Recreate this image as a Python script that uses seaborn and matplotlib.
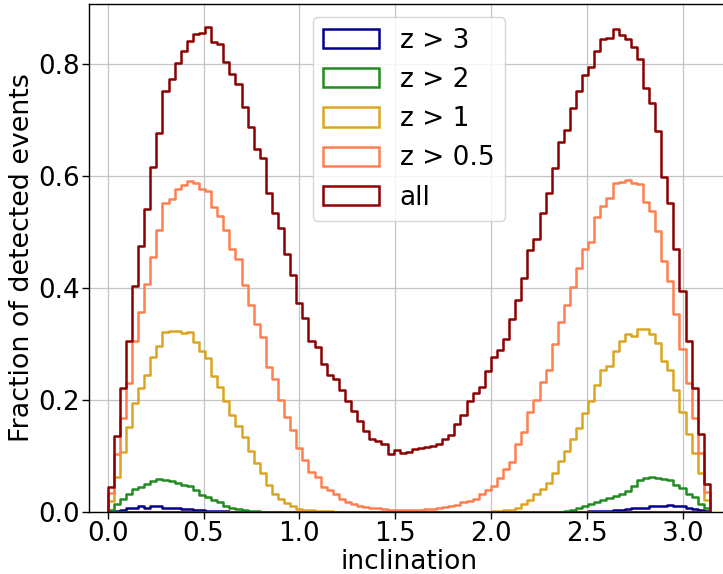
import numpy as np
import pandas as pd
import matplotlib
matplotlib.use("Agg")
import matplotlib.pyplot as plt
from matplotlib.patches import Rectangle
from matplotlib.transforms import ScaledTranslation
import seaborn as sns

# ---------------- data (fraction of detected events per inclination bin) ----------------
n_bins = 99                      # bins over [0, pi]
bin_range = (0.0, np.pi)

frac_all = [
    0.044, 0.136, 0.221, 0.306, 0.403, 0.475, 0.541, 0.616, 0.676, 0.752,
    0.773, 0.801, 0.824, 0.841, 0.853, 0.856, 0.866, 0.839, 0.835, 0.803,
    0.782, 0.765, 0.724, 0.687, 0.648, 0.633, 0.570, 0.534, 0.507, 0.461,
    0.424, 0.373, 0.347, 0.306, 0.294, 0.264, 0.245, 0.238, 0.218, 0.199,
    0.180, 0.162, 0.145, 0.130, 0.126, 0.121, 0.104, 0.110, 0.106, 0.108,
    0.112, 0.115, 0.116, 0.118, 0.122, 0.130, 0.138, 0.157, 0.174, 0.198,
    0.213, 0.224, 0.251, 0.277, 0.290, 0.309, 0.345, 0.378, 0.417, 0.467,
    0.488, 0.534, 0.569, 0.614, 0.661, 0.682, 0.721, 0.751, 0.781, 0.794,
    0.823, 0.845, 0.847, 0.863, 0.851, 0.844, 0.830, 0.809, 0.758, 0.730,
    0.681, 0.599, 0.551, 0.470, 0.394, 0.306, 0.221, 0.140, 0.050,
]

frac_z05 = [
    0.034, 0.103, 0.168, 0.231, 0.306, 0.358, 0.408, 0.456, 0.503, 0.552,
    0.559, 0.576, 0.584, 0.591, 0.587, 0.576, 0.573, 0.545, 0.528, 0.503,
    0.469, 0.452, 0.406, 0.370, 0.336, 0.313, 0.259, 0.237, 0.200, 0.170,
    0.147, 0.115, 0.093, 0.072, 0.063, 0.044, 0.039, 0.032, 0.023, 0.017,
    0.014, 0.011, 0.009, 0.008, 0.007, 0.005, 0.004, 0.003, 0.003, 0.003,
    0.004, 0.004, 0.005, 0.006, 0.007, 0.009, 0.011, 0.013, 0.017, 0.020,
    0.024, 0.032, 0.039, 0.047, 0.061, 0.076, 0.090, 0.122, 0.142, 0.178,
    0.200, 0.232, 0.254, 0.300, 0.339, 0.369, 0.402, 0.435, 0.469, 0.482,
    0.527, 0.546, 0.560, 0.587, 0.590, 0.592, 0.588, 0.586, 0.554, 0.538,
    0.502, 0.448, 0.413, 0.354, 0.291, 0.230, 0.168, 0.106, 0.035,
]

frac_z1 = [
    0.020, 0.063, 0.107, 0.151, 0.195, 0.222, 0.245, 0.276, 0.297, 0.322,
    0.324, 0.324, 0.319, 0.322, 0.303, 0.287, 0.275, 0.243, 0.223, 0.199,
    0.173, 0.153, 0.134, 0.109, 0.087, 0.069, 0.048, 0.033, 0.024, 0.016,
    0.010, 0.006, 0.004, 0.003, 0.002, 0.001, 0.001, 0.000, 0.000, 0.000,
    0.000, 0.000, 0.000, 0.000, 0.000, 0.000, 0.000, 0.000, 0.000, 0.000,
    0.000, 0.000, 0.000, 0.000, 0.000, 0.000, 0.000, 0.000, 0.000, 0.000,
    0.000, 0.000, 0.000, 0.001, 0.002, 0.003, 0.004, 0.007, 0.014, 0.021,
    0.032, 0.041, 0.051, 0.070, 0.091, 0.109, 0.130, 0.150, 0.176, 0.199,
    0.227, 0.253, 0.260, 0.287, 0.305, 0.318, 0.315, 0.327, 0.327, 0.317,
    0.301, 0.269, 0.253, 0.218, 0.178, 0.139, 0.106, 0.069, 0.021,
]

frac_z2 = [
    0.004, 0.014, 0.023, 0.033, 0.041, 0.045, 0.050, 0.056, 0.059, 0.057,
    0.055, 0.051, 0.049, 0.047, 0.039, 0.030, 0.027, 0.021, 0.017, 0.011,
    0.008, 0.005, 0.004, 0.002, 0.001, 0.000, 0.000, 0.000, 0.000, 0.000,
    0.000, 0.000, 0.000, 0.000, 0.000, 0.000, 0.000, 0.000, 0.000, 0.000,
    0.000, 0.000, 0.000, 0.000, 0.000, 0.000, 0.000, 0.000, 0.000, 0.000,
    0.000, 0.000, 0.000, 0.000, 0.000, 0.000, 0.000, 0.000, 0.000, 0.000,
    0.000, 0.000, 0.000, 0.000, 0.000, 0.000, 0.000, 0.000, 0.000, 0.000,
    0.000, 0.000, 0.000, 0.000, 0.000, 0.001, 0.004, 0.008, 0.011, 0.014,
    0.017, 0.021, 0.025, 0.029, 0.033, 0.037, 0.047, 0.057, 0.061, 0.063,
    0.061, 0.059, 0.057, 0.049, 0.043, 0.033, 0.027, 0.015, 0.007,
]

frac_z3 = [
    0.001, 0.002, 0.004, 0.007, 0.008, 0.011, 0.008, 0.010, 0.010, 0.008,
    0.008, 0.007, 0.006, 0.005, 0.004, 0.003, 0.002, 0.002, 0.001, 0.001,
    0.0005, 0.000, 0.000, 0.000, 0.000, 0.000, 0.000, 0.000, 0.000, 0.000,
    0.000, 0.000, 0.000, 0.000, 0.000, 0.000, 0.000, 0.000, 0.000, 0.000,
    0.000, 0.000, 0.000, 0.000, 0.000, 0.000, 0.000, 0.000, 0.000, 0.000,
    0.000, 0.000, 0.000, 0.000, 0.000, 0.000, 0.000, 0.000, 0.000, 0.000,
    0.000, 0.000, 0.000, 0.000, 0.000, 0.000, 0.000, 0.000, 0.000, 0.000,
    0.000, 0.000, 0.000, 0.000, 0.000, 0.000, 0.000, 0.000, 0.0005, 0.001,
    0.002, 0.002, 0.002, 0.003, 0.004, 0.005, 0.007, 0.008, 0.008, 0.010,
    0.011, 0.011, 0.012, 0.011, 0.011, 0.008, 0.006, 0.004, 0.002,
]

series_labels = ["z > 3", "z > 2", "z > 1", "z > 0.5", "all"]
series_values = [frac_z3, frac_z2, frac_z1, frac_z05, frac_all]
series_colors = ["darkblue", "forestgreen", "goldenrod", "coral", "darkred"]

x_ticks = [0.0, 0.5, 1.0, 1.5, 2.0, 2.5, 3.0]
y_ticks = [0.0, 0.2, 0.4, 0.6, 0.8]

# ---------------- style ----------------
sns.set_style("ticks")
plt.rcParams["font.family"] = ["DejaVu Sans"]
plt.rcParams["text.color"] = "black"
plt.rcParams["axes.labelcolor"] = "black"
plt.rcParams["xtick.color"] = "black"
plt.rcParams["ytick.color"] = "black"
plt.rcParams["axes.edgecolor"] = "black"

FS = 18.8

W, H = 723, 574
fig = plt.figure(figsize=(W / 100, H / 100), dpi=100)

x_lo, x_hi = -0.1, np.pi + 0.1
px_per_unit = 191.7
ax_left_px = 88.5
ax_w_px = (x_hi - x_lo) * px_per_unit
ax_bottom_px = 574 - 512
ax_h_px = 508
ax = fig.add_axes([ax_left_px / W, ax_bottom_px / H, ax_w_px / W, ax_h_px / H])

bin_width = (bin_range[1] - bin_range[0]) / n_bins
centers = bin_range[0] + bin_width * (np.arange(n_bins) + 0.5)

# clip rectangle a hair above the baseline so the closing bottom edge of the
# step outline is hidden (like a matplotlib 'step' histogram)
clip_rect = Rectangle((0, 0), 1, 1.2,
                      transform=ax.transAxes + ScaledTranslation(0, 0.011, fig.dpi_scale_trans),
                      facecolor="none", edgecolor="none")

for lab, vals, col in zip(series_labels, series_values, series_colors):
    df = pd.DataFrame({"inclination": centers, "fraction": vals})
    sns.histplot(data=df, x="inclination", weights="fraction",
                 bins=n_bins, binrange=bin_range,
                 element="step", fill=True, color=col, facecolor=(0, 0, 0, 0),
                 edgecolor=col, linewidth=1.8, label=lab, ax=ax)
    ax.collections[-1].set_clip_path(clip_rect)

ax.set_xlim(x_lo, x_hi)
ax.set_ylim(0, 508 / 560)
ax.set_xticks(x_ticks)
ax.set_yticks(y_ticks)
ax.set_xticklabels([f"{t:.1f}" for t in x_ticks])
ax.set_yticklabels([f"{t:.1f}" for t in y_ticks])
ax.tick_params(labelsize=FS, length=5, width=1, pad=1.5)
ax.grid(True, color="#c4c4c4", linewidth=0.9)
ax.set_axisbelow(True)
for s in ax.spines.values():
    s.set_visible(True)
    s.set_linewidth(1.0)
    s.set_color("black")
    s.set_zorder(3)

ax.set_xlabel("inclination", fontsize=19, labelpad=1.5)
ax.set_ylabel("Fraction of detected events", fontsize=19.4, labelpad=2)

leg = ax.legend(loc="upper center", fontsize=19, frameon=True, handlelength=2.1,
                handleheight=0.74)
leg.get_frame().set_edgecolor("#cccccc")

fig.savefig("out.png", dpi=100)
